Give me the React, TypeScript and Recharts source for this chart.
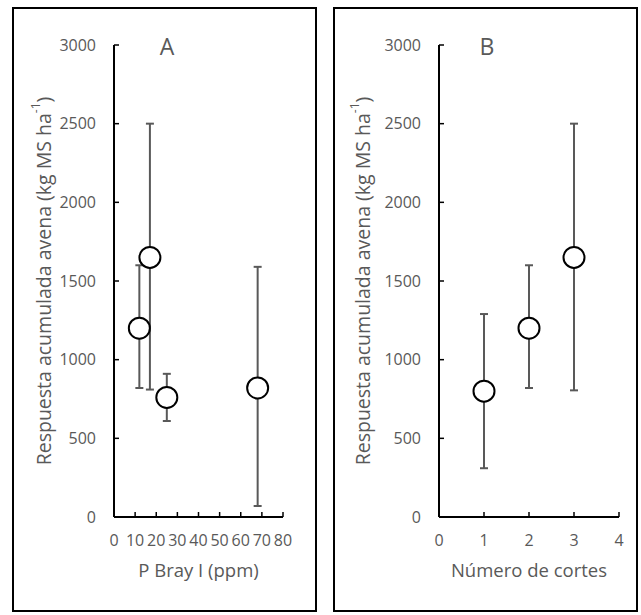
import React from 'react';
import { ScatterChart, Scatter, XAxis, YAxis, ErrorBar, Label } from 'recharts';

// Panel A: respuesta vs P Bray I
const pBray = [12, 17, 25, 68];
const respuestaA = [1200, 1650, 760, 820];
const bajoA = [820, 810, 610, 70];
const altoA = [1600, 2500, 910, 1590];

// Panel B: respuesta vs número de cortes
const cortes = [1, 2, 3];
const respuestaB = [800, 1200, 1650];
const bajoB = [310, 820, 805];
const altoB = [1290, 1600, 2500];

const yTicks = [0, 500, 1000, 1500, 2000, 2500, 3000];
const xTicksA = [0, 10, 20, 30, 40, 50, 60, 70, 80];
const xTicksB = [0, 1, 2, 3, 4];

const FONT = '"Open Sans", sans-serif';
const GREY = '#595959';

const toRows = (xs: number[], ys: number[], lo: number[], hi: number[]) =>
  xs.map((x, i) => ({ x, y: ys[i], err: [ys[i] - lo[i], hi[i] - ys[i]] }));

const dataA = toRows(pBray, respuestaA, bajoA, altoA);
const dataB = toRows(cortes, respuestaB, bajoB, altoB);

function YTitle(props: any) {
  const vb = props.viewBox || { x: 0, y: 45, width: 114, height: 472 };
  const cx = vb.x + props.dx;
  const cy = vb.y + vb.height / 2;
  return (
    <text
      x={cx}
      y={cy}
      transform={`rotate(-90, ${cx}, ${cy})`}
      textAnchor="middle"
      dominantBaseline="central"
      fill={GREY}
      fontSize={19.5}
      fontFamily={FONT}
    >
      Respuesta acumulada avena (kg MS ha
      <tspan dy={-8} fontSize={12}>-1</tspan>
      <tspan dy={8}>)</tspan>
    </text>
  );
}

const Ring = (p: any) => (
  <circle cx={p.cx} cy={p.cy} r={10.5} fill="#fff" stroke="#000" strokeWidth={2} />
);

interface PanelProps {
  data: any[];
  xDomain: [number, number];
  xTicks: number[];
  xTitle: string;
  letter: string;
  left: number;
  width: number;
  yWidth: number;
  right: number;
  titleX: number;
  letterX: number;
}

function Panel({ data, xDomain, xTicks, xTitle, letter, left, width, yWidth, right, titleX, letterX }: PanelProps) {
  const tick = { fill: GREY, fontSize: 16, fontFamily: FONT };
  return (
    <div style={{ position: 'absolute', left, top: 0, width, height: 615 }}>
      <ScatterChart width={width} height={615} margin={{ top: 45, right, bottom: 0, left: 0 }}>
        <XAxis
          type="number"
          dataKey="x"
          domain={xDomain}
          ticks={xTicks}
          interval={0}
          height={98}
          tickSize={-5}
          tickMargin={23}
          tick={tick}
          axisLine={{ stroke: '#000', strokeWidth: 2 }}
          tickLine={{ stroke: '#000', strokeWidth: 1.5 }}
        >
          <Label
            value={xTitle}
            position="insideTop"
            offset={47}
            style={{ fill: GREY, fontSize: 18.5, fontFamily: FONT }}
          />
        </XAxis>
        <YAxis
          type="number"
          dataKey="y"
          domain={[0, 3000]}
          ticks={yTicks}
          interval={0}
          width={yWidth}
          tickSize={-5}
          tickMargin={23}
          tick={tick}
          axisLine={{ stroke: '#000', strokeWidth: 2 }}
          tickLine={{ stroke: '#000', strokeWidth: 1.5 }}
        >
          <Label content={(p: any) => <YTitle {...p} dx={titleX} />} />
        </YAxis>
        <Scatter data={data} shape={Ring} isAnimationActive={false}>
          <ErrorBar dataKey="err" direction="y" width={4} stroke={GREY} strokeWidth={2} isAnimationActive={false} />
        </Scatter>
      </ScatterChart>
      <div
        style={{
          position: 'absolute',
          left: letterX,
          top: 46,
          transform: 'translate(-50%, -50%)',
          lineHeight: 1,
          fontSize: 23,
          fontFamily: FONT,
          color: GREY,
        }}
      >
        {letter}
      </div>
    </div>
  );
}

export default function App() {
  const frame = { position: 'absolute' as const, top: 7, height: 605, border: '2px solid #000', boxSizing: 'border-box' as const, pointerEvents: 'none' as const };
  return (
    <div style={{ position: 'absolute', left: 0, top: 0, width: 641, height: 615, background: '#fff' }}>
      <Panel data={dataA} xDomain={[0, 80]} xTicks={xTicksA} xTitle="P Bray I (ppm)" letter="A"
        left={0} width={320} yWidth={114} right={37} titleX={43} letterX={167} />
      <Panel data={dataB} xDomain={[0, 4]} xTicks={xTicksB} xTitle="Número de cortes" letter="B"
        left={320} width={321} yWidth={119} right={22} titleX={42} letterX={167} />
      <div style={{ ...frame, left: 12, width: 305 }} />
      <div style={{ ...frame, left: 333, width: 305 }} />
    </div>
  );
}
